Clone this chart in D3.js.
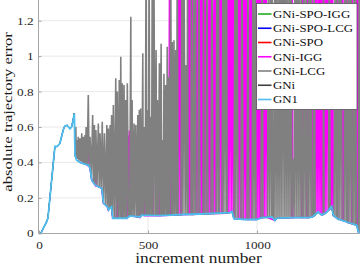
<!DOCTYPE html>
<html>
<head>
<meta charset="utf-8">
<script src="https://cdn.jsdelivr.net/npm/d3@7"></script>
<style>
  body { margin: 0; background: #fff; }
  svg { display: block; }
  text { font-family: "Liberation Serif", "Times New Roman", serif; }
</style>
</head>
<body>
<div id="chart"></div>
<script>
// legend order = drawing order (first is at the bottom)
const seriesNames = ["GNi-SPO-IGG", "GNi-SPO-LCG", "GNi-SPO", "GNi-IGG", "GNi-LCG", "GNi", "GN1"];
const seriesColors = ["#22aa22", "#0000ff", "#ff0000", "#ff00ff", "#808080", "#404040", "#4dbeee"];

const xTicks = [0, 500, 1000];
const yTicks = [0, 0.2, 0.4, 0.6, 0.8, 1, 1.2];

// [increment, absolute trajectory error]
// GN1 is the lower envelope; the SPO variants and GNi lie on it
const gn1 = [[0,0],[9,0],[20,.03],[35,.065],[41,.086],[73,.49],[83,.49],[96,.508],[111,.583],[118,.605],[129,.61],[142,.59],[149,.6],[155,.63],[162,.677],[165,.44],[173,.413],[188,.4],[211,.39],[226,.385],[234,.367],[242,.3],[257,.273],[272,.263],[288,.254],[296,.169],[314,.149],[319,.131],[326,.143],[333,.15],[338,.085],[402,.085],[417,.098],[463,.092],[471,.103],[555,.1],[660,.106],[738,.109],[876,.117],[885,.123],[894,.083],[945,.078],[998,.078],[1023,.089],[1068,.092],[1082,.072],[1091,.086],[1174,.089],[1243,.089],[1257,.095],[1280,.12],[1296,.103],[1316,.115],[1342,.15],[1350,.1],[1371,.081],[1394,.072],[1417,.061],[1445,.05],[1458,.044],[1464,.009],[1472,0]];

const lcg = [[165,.44],[169,.6],[171,.43],[174,.527],[177,.42],[180,.545],[184,.41],[188,.536],[192,.405],[196,.564],[200,.4],[203,.545],[207,.395],[211,.555],[213,.39],[216,.6],[221,.387],[226,.78],[230,.38],[234,.545],[240,.32],[246,.668],[250,.287],[254,.611],[257,.273],[261,.583],[266,.267],[272,.62],[276,.262],[280,.564],[285,.256],[290,.63],[295,.18],[300,.564],[305,.16],[311,.611],[314,.149],[318,.592],[322,.136],[326,.611],[329,.145],[333,.668],[337,.1],[341,.724],[346,.085],[352,.875],[355,.085],[359,.8],[364,.085],[368,.865],[372,.085],[375,.997],[378,.085],[382,.847],[386,.085],[390,.837],[394,.085],[398,.752],[401,.085],[405,.847],[410,.092],[416,.097],[421,1.222],[423,.097],[427,.752],[431,.096],[436,.62],[439,.095],[444,.611],[448,.095],[453,.668],[456,.094],[460,.696],[463,.093],[466,.705],[471,.103],[476,1.016],[478,.1],[483,.6],[487,.1],[491,1.6],[494,.1],[497,.696],[501,.1],[505,1.6],[508,.1],[512,.658],[516,.1],[520,1.8],[523,.1],[527,1.5],[532,.1],[537,1.035],[539,.1],[543,.752],[547,.1],[552,.96],[556,.1],[560,1.07],[563,.101],[567,.527],[570,.101],[573,.9],[577,.101],[581,.837],[585,.102],[588,1.053],[592,.102],[596,.882],[599,.102],[604,1.6],[608,.103],[611,1.08],[615,.103],[619,1.09],[623,.103],[627,1.035],[631,.104],[634,1.7],[638,.104],
  [651,.105],[656,1.6],[660,.106],[665,1.7],[670,.106],[674,.95],[679,.106],[681,1.6],[684,.106],
  [697,.107],[699,1.6],[702,.107],[706,.107],[711,1.6],[715,.107],[718,1.6],[720,.108],
  [729,.108],[734,1.6],[738,.109],[752,.109],[754,1.6],[757,.11],[766,.11],[770,1.6],[775,.11],
  [789,.111],[793,1.6],[798,.111],[812,.112],[816,1.6],[821,.112],[823,1.6],[826,.112],
  [839,.113],[844,1.6],[848,.113],[853,1.6],[858,.114],[860,1.6],[863,.115],[876,.117],[885,.123],
  [894,.083],[899,1.6],[903,.082],[908,1.6],[913,.081],[926,.08],[931,1.6],[936,.079],
  [954,.078],[958,1.6],[963,.078],[977,.078],[981,1.6],[986,.078],[991,1.6],[995,.078],
  [1018,.087],[1023,1.6],[1027,.089],[1048,.091],[1052,1.6],[1057,.091],[1062,1.6],[1066,.092],[1070,1.6],[1073,.086],
  [1078,.078],[1082,1.6],[1087,.08],[1091,1.6],[1096,.086],[1101,1.6],[1105,.087],[1110,1.6],[1114,.087],[1119,1.6],[1124,.087],[1128,1.6],[1133,.087],[1137,1.6],[1142,.088],[1147,1.6],[1151,.088],[1156,1.6],[1160,.088],
  [1167,.42],[1170,.088],[1174,1.6],[1179,.089],[1183,1.6],[1188,.089],[1192,1.6],[1197,.089],[1202,1.6],[1206,.089],
  [1211,.089],[1215,1.6],[1220,.089],[1225,1.6],[1229,.089],[1234,.089],[1238,1.6],[1243,.089],[1247,1.6],[1252,.093],
  [1259,.097],[1262,1.6],[1266,.103],[1280,.12],[1296,.103],[1303,.107],[1305,1.6],[1307,.108],[1316,.115],
  [1328,.131],[1331,1.6],[1335,.138],[1342,.15],[1350,.1],[1353,.097],[1358,1.6],[1362,.088],[1365,1.6],[1368,.084],
  [1371,.081],[1376,1.6],[1380,.079],[1385,1.6],[1390,.074],[1399,.07],[1403,1.6],[1408,.065],[1411,1.6],[1413,.063],
  [1417,.061],[1422,1.6],[1426,.058],[1431,1.6],[1436,.054],[1440,.052],[1445,1.6],[1449,.049],[1452,1.6],[1455,.046],
  [1458,.044],[1464,.009],[1469,1.6],[1472,0]];

const igg = [[165,.44],[222,.385],[227,.5],[232,.375],[234,.367],[242,.3],[257,.273],[260,.45],[262,.27],[288,.254],[295,.17],[313,.15],[318,.131],[326,.143],[333,.15],[338,.085],[354,.085],[358,.27],[361,.085],[380,.087],[383,.2],[386,.087],[402,.085],[407,.55],[410,.092],[414,.58],[418,.098],[449,.094],[454,.3],[459,.093],[462,.28],[465,.093],[471,.103],[475,.49],[477,.1],[480,.49],[484,.1],[495,.1],[498,.58],[501,.1],[517,.1],[520,.66],[524,.1],[546,.1],[549,.38],[553,.1],[595,.102],[599,1.6],[603,.102],
  [637,.104],[642,1.6],[647,.104],[650,1.6],[653,.105],[683,.106],[688,1.6],[692,.106],[696,1.6],[698,.107],
  [702,.107],[704,1.6],[706,.107],[720,.108],[725,1.6],[729,.108],[738,.109],[743,1.6],[747,.109],[750,1.6],[752,.109],
  [757,.11],[761,1.6],[766,.11],[775,.11],[780,1.6],[784,.111],[787,1.6],[789,.111],
  [798,.111],[803,1.6],[807,.112],[810,1.6],[812,.112],[825,.112],[830,1.6],[835,.113],[837,1.6],[840,.113],
  [862,.115],[867,1.6],[871,.116],[876,1.6],[881,.12],[885,1.6],[890,.101],[893,1.6],[896,.083],
  [913,.081],[917,1.6],[922,.08],[924,1.6],[927,.08],[936,.079],[940,1.6],[945,.078],[949,1.6],[954,.078],
  [963,.078],[968,1.6],[972,.078],[975,1.6],[977,.078],[995,.078],[1000,1.6],[1004,.08],[1009,1.6],[1013,.083],[1016,1.6],[1018,.087],
  [1027,.089],[1032,1.6],[1036,.09],[1041,1.6],[1046,.09],[1082,.073],[1091,.086],
  [1158,.089],[1161,1.6],[1164,.089],[1204,.089],[1207,1.6],[1210,.089],[1227,.089],[1230,1.6],[1233,.089],
  [1252,.093],[1255,1.6],[1258,.096],[1266,.103],[1270,1.6],[1275,.115],[1280,1.6],[1284,.116],[1289,1.6],[1293,.107],[1298,1.6],[1301,.106],
  [1307,.108],[1312,1.6],[1316,.115],[1321,1.6],[1326,.127],[1328,1.6],[1331,.132],[1335,.137],[1339,1.6],[1342,.15],[1346,1.6],[1350,.1],
  [1366,.085],[1368,1.6],[1370,.082],[1390,.074],[1393,1.6],[1396,.071],[1412,.065],[1414,1.6],[1417,.062],
  [1434,.055],[1436,1.6],[1439,.053],[1454,.047],[1457,1.6],[1461,.035],[1463,1.6],[1465,.006],[1472,0]];

const seriesData = [gn1, gn1, gn1, igg, lcg, gn1, gn1];
const seriesWidth = [1, 1, 1, 1.6, 1.6, 1, 1.8];

// layout
const W = 362, H = 269;
const left = 39, right = 360, bottom = 233.3;
const stretch = 1.2; // the figure's serif text runs wide

const svg = d3.select("#chart").append("svg")
    .attr("width", W)
    .attr("height", H);

const x = d3.scaleLinear().domain([0, 1472]).range([left, right]);
const y = d3.scaleLinear().domain([0, 1.3]).range([bottom, 3]);

// grid
svg.append("g")
    .selectAll("line")
    .data(yTicks.filter(d => d > 0))
    .join("line")
    .attr("x1", left).attr("x2", right)
    .attr("y1", d => y(d)).attr("y2", d => y(d))
    .attr("stroke", "#e8e8e8");
svg.append("g")
    .selectAll("line")
    .data(xTicks.filter(d => d > 0))
    .join("line")
    .attr("x1", d => x(d)).attr("x2", d => x(d))
    .attr("y1", 0).attr("y2", bottom)
    .attr("stroke", "#e8e8e8");

// clip
svg.append("clipPath").attr("id", "plot")
    .append("rect")
    .attr("x", left).attr("y", 0)
    .attr("width", right - left).attr("height", bottom + 2);

const line = d3.line()
    .x(d => x(d[0]))
    .y(d => y(d[1]));

svg.append("g")
    .attr("clip-path", "url(#plot)")
    .selectAll("path")
    .data(seriesData)
    .join("path")
    .attr("fill", "none")
    .attr("stroke", (d, i) => seriesColors[i])
    .attr("stroke-width", (d, i) => seriesWidth[i])
    .attr("stroke-linejoin", "miter")
    .attr("d", line);

// axes
const axisColor = "#a6a6a6";
const yAxis = svg.append("g")
    .attr("transform", "translate(38.5,0)")
    .call(d3.axisLeft(y).tickValues(yTicks).tickFormat(d3.format("~g"))
        .tickSizeInner(-3).tickSizeOuter(0).tickPadding(5));
yAxis.select(".domain").remove();
yAxis.selectAll("line").attr("stroke", axisColor);
yAxis.selectAll("text")
    .attr("x", -5 / stretch)
    .attr("transform", `scale(${stretch},1)`)
    .attr("fill", "#262626")
    .style("font-size", "11px")
    .style("font-family", "Liberation Serif, serif");

const xAxis = svg.append("g")
    .attr("transform", "translate(0,233.5)")
    .call(d3.axisBottom(x).tickValues(xTicks).tickFormat(d3.format("d"))
        .tickSizeInner(-3).tickSizeOuter(0).tickPadding(8));
xAxis.select(".domain").remove();
xAxis.selectAll("line").attr("stroke", axisColor);
xAxis.selectAll("text")
    .attr("transform", `scale(${stretch},1)`)
    .attr("fill", "#262626")
    .style("font-size", "11px")
    .style("font-family", "Liberation Serif, serif");

svg.append("line")
    .attr("x1", 38.5).attr("x2", 38.5).attr("y1", 0).attr("y2", 233.5)
    .attr("stroke", axisColor);
svg.append("line")
    .attr("x1", 38.5).attr("x2", right).attr("y1", 233.5).attr("y2", 233.5)
    .attr("stroke", axisColor);

// axis labels
svg.append("g")
    .attr("transform", "translate(198.5,263)")
    .append("text")
    .attr("text-anchor", "middle")
    .attr("transform", "scale(1.24,1)")
    .attr("fill", "#1a1a1a")
    .style("font-size", "14px")
    .text("increment number");

svg.append("g")
    .attr("transform", "translate(11.5,112) rotate(-90)")
    .append("text")
    .attr("text-anchor", "middle")
    .attr("transform", "scale(1.33,1)")
    .attr("fill", "#1a1a1a")
    .style("font-size", "12.5px")
    .text("absolute trajectory error");

// legend
const legend = svg.append("g");
legend.append("rect")
    .attr("x", 256.5).attr("y", 3.5)
    .attr("width", 100.5).attr("height", 106)
    .attr("fill", "#fff")
    .attr("stroke", "#555")
    .attr("stroke-width", 0.8);

const entry = legend.selectAll("g.entry")
    .data(seriesNames)
    .join("g")
    .attr("class", "entry")
    .attr("transform", (d, i) => `translate(0,${14 + i * 14.25})`);
entry.append("line")
    .attr("x1", 258).attr("x2", 271.5)
    .attr("stroke", (d, i) => seriesColors[i])
    .attr("stroke-width", 1.6);
entry.append("g")
    .attr("transform", "translate(273,3.8)")
    .append("text")
    .attr("transform", "scale(1.17,1)")
    .attr("fill", "#111")
    .style("font-size", "11px")
    .text(d => d);
</script>
</body>
</html>
